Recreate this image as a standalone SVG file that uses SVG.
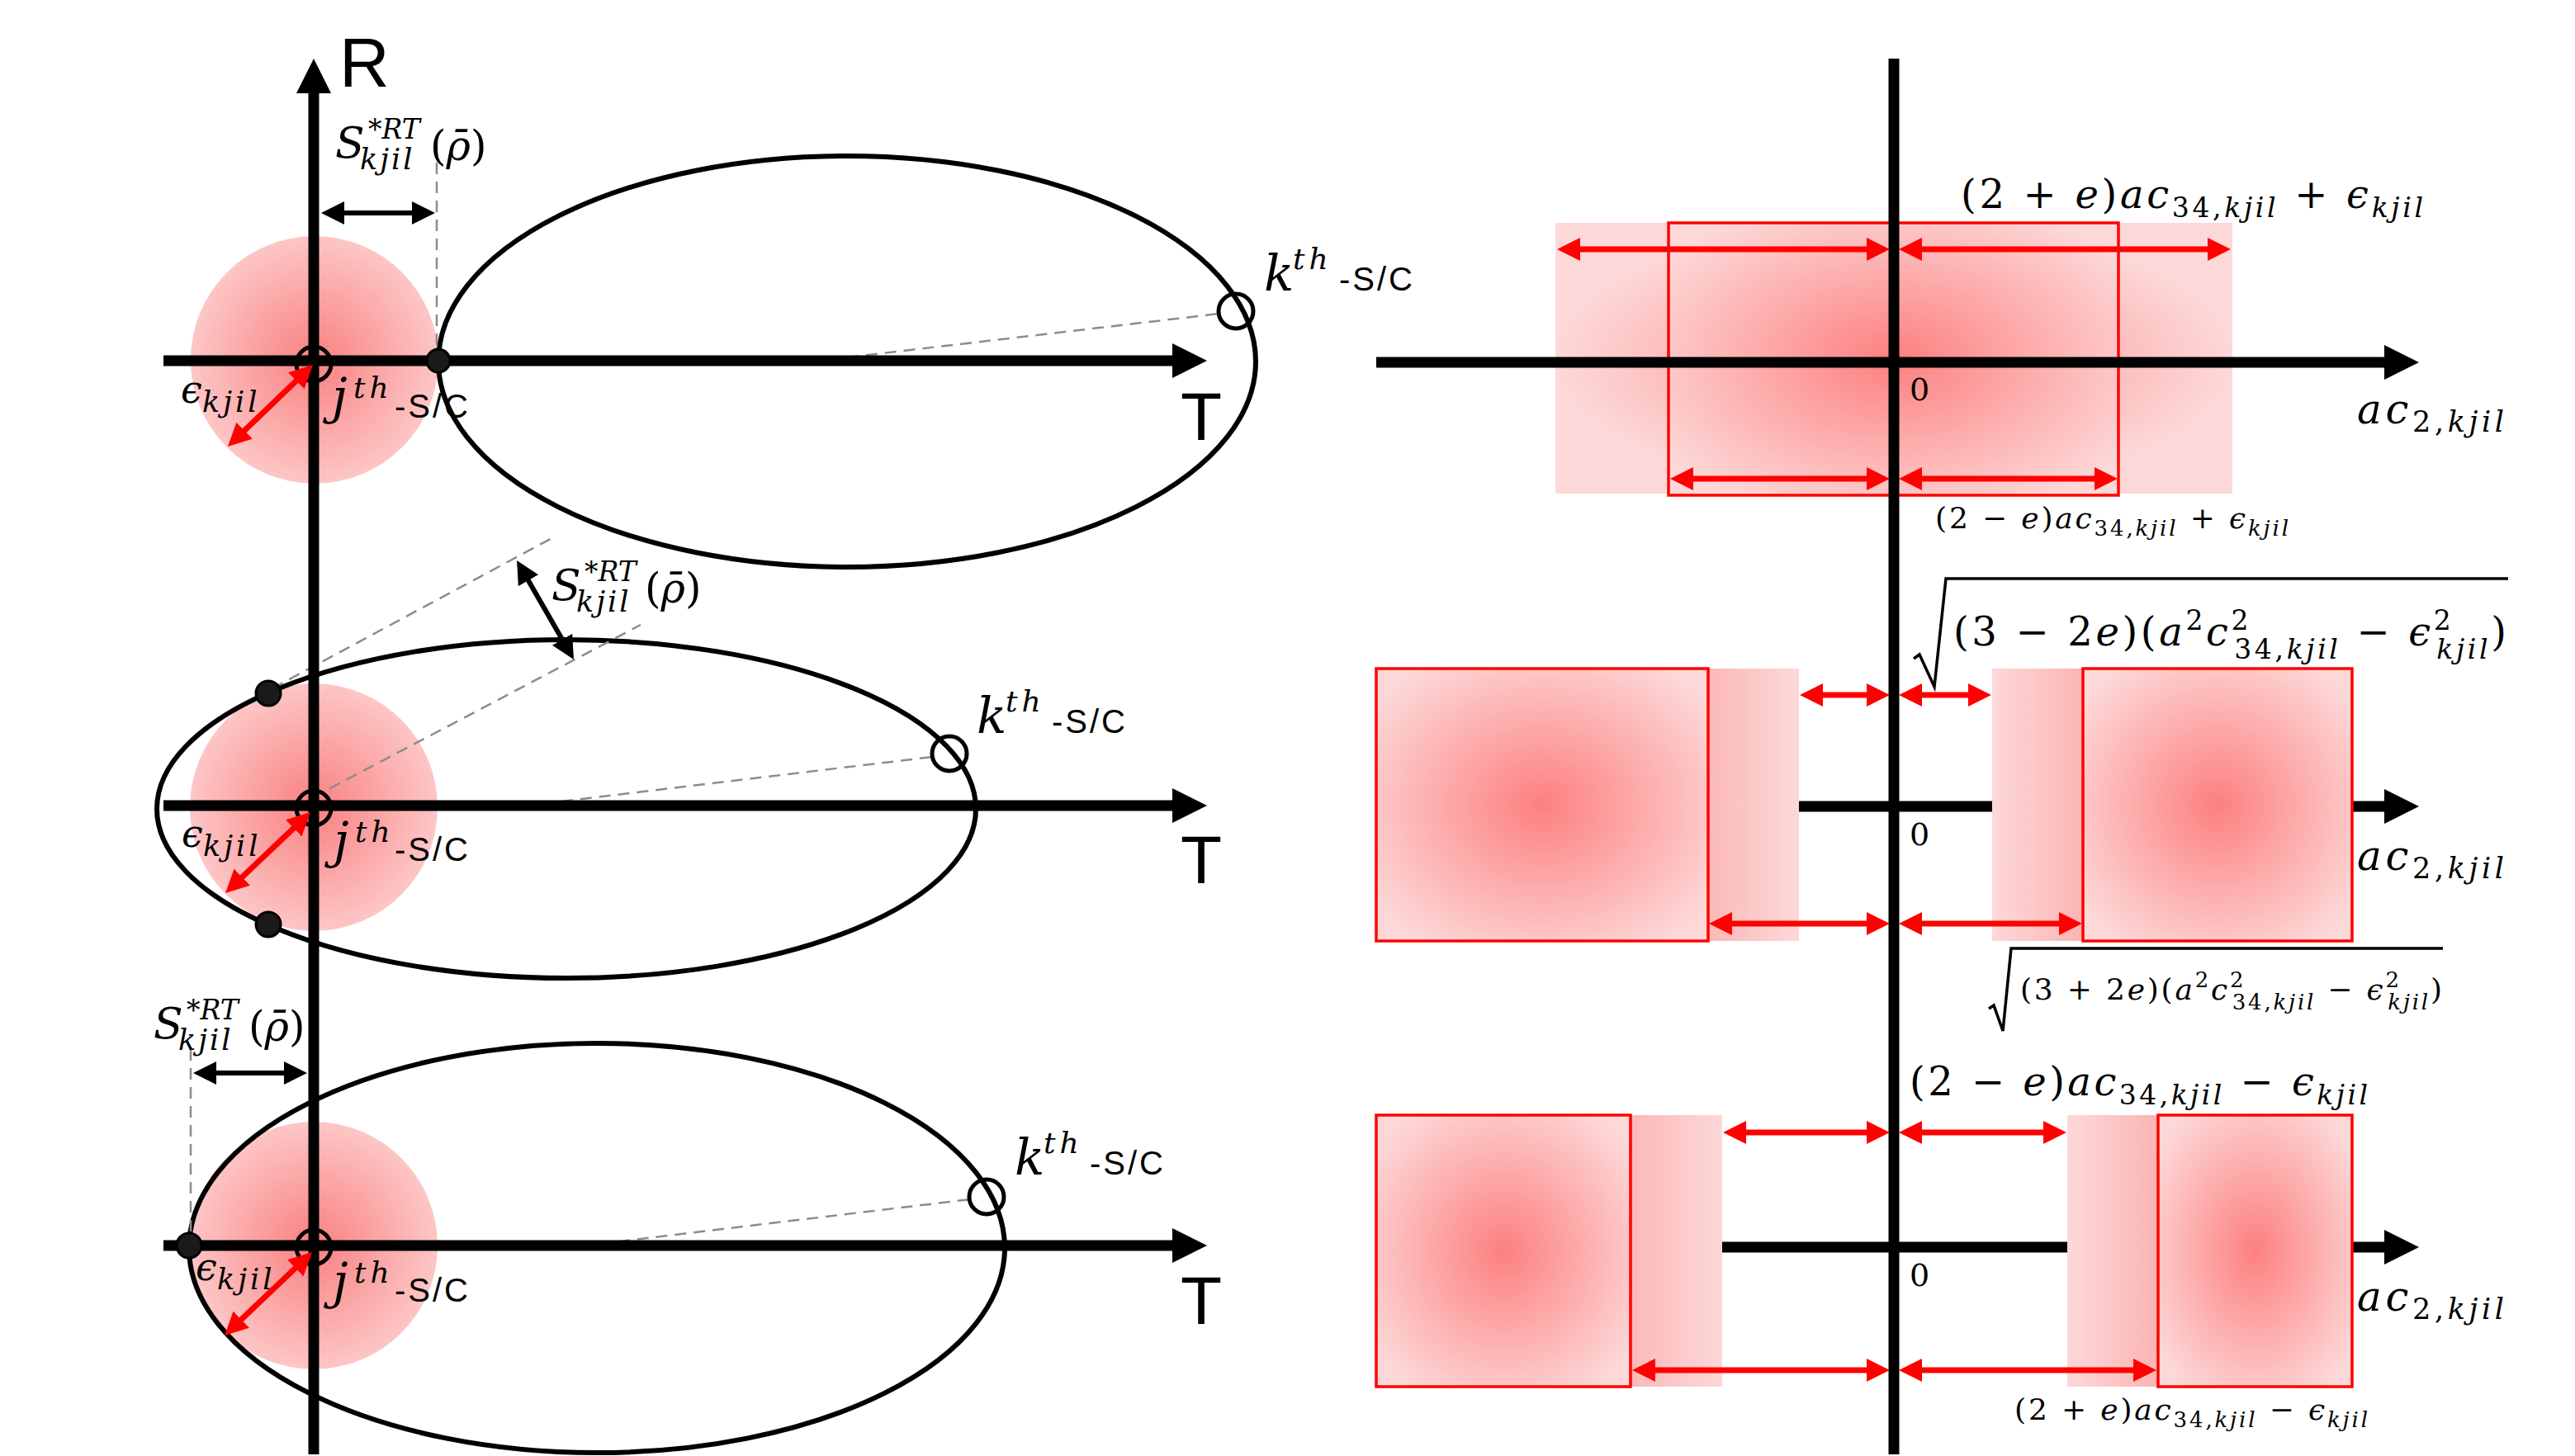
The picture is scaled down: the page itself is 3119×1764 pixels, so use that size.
<svg xmlns="http://www.w3.org/2000/svg" width="3119" height="1764" viewBox="0 0 3119 1764">
<style>
.ax{stroke:#000;stroke-width:13;fill:none}
.axa{stroke:#000;stroke-width:13;fill:none;marker-end:url(#ah)}
.ell{fill:none;stroke:#000;stroke-width:6}
.dash{stroke:#8c8c8c;stroke-width:2.5;stroke-dasharray:14 9;fill:none}
.dot{fill:#1a1a1a;stroke:#000;stroke-width:3}
.oc{fill:none;stroke:#000;stroke-width:5}
.ra{stroke:#f00;stroke-width:7;fill:none;marker-start:url(#rh);marker-end:url(#rh)}
.ba{stroke:#000;stroke-width:6;fill:none;marker-start:url(#bh);marker-end:url(#bh)}
.box{stroke:#f00;stroke-width:3.5;fill:url(#bg)}
.pink{fill:url(#pg)}
.m{font-family:"DejaVu Serif","Liberation Serif",serif;fill:#000}
.i{font-style:italic}
.sans{font-family:"Liberation Sans",Arial,sans-serif;fill:#000}
.sc{font-family:"Liberation Sans",Arial,sans-serif;font-size:40px;letter-spacing:3px}
.rad{fill:none;stroke:#000;stroke-width:3.5;stroke-linejoin:miter}
</style>
<defs>
<marker id="ah" viewBox="0 0 10 10" refX="2" refY="5" markerUnits="userSpaceOnUse" markerWidth="42" markerHeight="42" orient="auto"><path d="M0,0L10,5L0,10z" fill="#000"/></marker>
<marker id="rh" viewBox="0 0 10 10" refX="2" refY="5" markerUnits="userSpaceOnUse" markerWidth="28" markerHeight="28" orient="auto-start-reverse"><path d="M0,0L10,5L0,10z" fill="#f00"/></marker>
<marker id="bh" viewBox="0 0 10 10" refX="2" refY="5" markerUnits="userSpaceOnUse" markerWidth="28" markerHeight="28" orient="auto-start-reverse"><path d="M0,0L10,5L0,10z" fill="#000"/></marker>
<radialGradient id="pg"><stop offset="0" stop-color="#f98080"/><stop offset="1" stop-color="#fdc6c6"/></radialGradient>
<radialGradient id="og"><stop offset="0" stop-color="#fa8a8a"/><stop offset="1" stop-color="#fdd8d8"/></radialGradient>
<radialGradient id="bg" r="0.62"><stop offset="0" stop-color="#fd8080"/><stop offset="1" stop-color="#fdd8d8"/></radialGradient>
<linearGradient id="lb"><stop offset="0" stop-color="#fbb8b8"/><stop offset="1" stop-color="#fdd8d8"/></linearGradient>
<linearGradient id="rb"><stop offset="0" stop-color="#fdd8d8"/><stop offset="1" stop-color="#fbb4b4"/></linearGradient>
</defs>
<rect width="3119" height="1764" fill="#fff"/>

<!-- LEFT PANEL 1 -->
<g id="left-1">
<circle class="pink" cx="381" cy="436" r="150"/>
<ellipse class="ell" cx="1026" cy="438" rx="495" ry="249"/>
<line class="dash" x1="529" y1="174" x2="529" y2="437"/>
<line class="dash" x1="1026" y1="433" x2="1477" y2="380"/>
<line class="axa" x1="198" y1="437" x2="1428.4" y2="437"/>
</g>
<!-- LEFT PANEL 2 -->
<g id="left-2">
<circle class="pink" cx="380" cy="978" r="150"/>
<ellipse class="ell" cx="686" cy="980" rx="496" ry="205"/>
<line class="dash" x1="330" y1="834" x2="674" y2="649"/>
<line class="dash" x1="379" y1="966" x2="776" y2="757"/>
<line class="dash" x1="680" y1="971" x2="1129" y2="917"/>
<line class="axa" x1="198" y1="976" x2="1428.4" y2="976"/>
</g>
<!-- LEFT PANEL 3 -->
<g id="left-3">
<circle class="pink" cx="380" cy="1509" r="150"/>
<ellipse class="ell" cx="723" cy="1512" rx="494" ry="248"/>
<line class="dash" x1="231" y1="1271" x2="231" y2="1509"/>
<line class="dash" x1="726" y1="1507" x2="1175" y2="1453"/>
<line class="axa" x1="198" y1="1509" x2="1428.4" y2="1509"/>
</g>
<g id="r-axis">
<line class="axa" x1="380" y1="1762" x2="380" y2="104.6"/>
<text class="sans" x="411" y="105" font-size="84">R</text>
</g>
<g id="points">
<circle class="dot" cx="531" cy="437" r="14"/>
<circle class="oc" cx="380" cy="441" r="21"/>
<circle class="oc" cx="1497" cy="377" r="21"/>
<circle class="dot" cx="325" cy="840" r="15"/>
<circle class="dot" cx="325" cy="1120" r="15"/>
<circle class="oc" cx="380" cy="979" r="21"/>
<circle class="oc" cx="1150" cy="913" r="21"/>
<circle class="dot" cx="229" cy="1509" r="15"/>
<circle class="oc" cx="380" cy="1511" r="21"/>
<circle class="oc" cx="1195" cy="1450" r="21"/>
</g>

<!-- RIGHT PANEL 1 -->
<g id="right-1">
<rect x="1884" y="270" width="820" height="328" fill="url(#og)"/>
<rect class="box" x="2021" y="270" width="545" height="330"/>
<line class="axa" x1="1667" y1="439" x2="2896.4" y2="439"/>
</g>
<!-- RIGHT PANEL 2 -->
<g id="right-2">
<line class="axa" x1="1667" y1="977" x2="2896.4" y2="977"/>
<rect x="2069" y="810" width="110" height="330" fill="url(#lb)"/>
<rect class="box" x="1667" y="810" width="402" height="330"/>
<rect x="2413" y="810" width="110" height="330" fill="url(#rb)"/>
<rect class="box" x="2523" y="810" width="326" height="330"/>
</g>
<!-- RIGHT PANEL 3 -->
<g id="right-3">
<line class="axa" x1="1667" y1="1511" x2="2896.4" y2="1511"/>
<rect x="1975" y="1351" width="111" height="329" fill="url(#lb)"/>
<rect class="box" x="1667" y="1351" width="308" height="329"/>
<rect x="2504" y="1351" width="110" height="329" fill="url(#rb)"/>
<rect class="box" x="2614" y="1351" width="235" height="329"/>
</g>

<g id="connectors">
<line class="ra" x1="362.9" y1="457.5" x2="292.1" y2="525.5"/>
<line class="ra" x1="359.8" y1="999.5" x2="289.2" y2="1066.5"/>
<line class="ra" x1="361.8" y1="1532.5" x2="288.2" y2="1602.5"/>
<line class="ba" x1="411.4" y1="258" x2="504.6" y2="258"/>
<line class="ba" x1="637.2" y1="698.4" x2="683.8" y2="779.6"/>
<line class="ba" x1="256.4" y1="1300" x2="349.6" y2="1300"/>
<line class="ra" x1="1908.4" y1="302" x2="2266.6" y2="302"/>
<line class="ra" x1="2322.4" y1="302" x2="2679.6" y2="302"/>
<line class="ra" x1="2045.4" y1="580" x2="2266.6" y2="580"/>
<line class="ra" x1="2322.4" y1="580" x2="2542.6" y2="580"/>
<line class="ra" x1="2202.4" y1="842" x2="2266.6" y2="842"/>
<line class="ra" x1="2322.4" y1="842" x2="2389.6" y2="842"/>
<line class="ra" x1="2092.4" y1="1119" x2="2266.6" y2="1119"/>
<line class="ra" x1="2322.4" y1="1119" x2="2499.6" y2="1119"/>
<line class="ra" x1="2109.4" y1="1372" x2="2266.6" y2="1372"/>
<line class="ra" x1="2322.4" y1="1372" x2="2480.6" y2="1372"/>
<line class="ra" x1="1999.4" y1="1660" x2="2266.6" y2="1660"/>
<line class="ra" x1="2322.4" y1="1660" x2="2589.6" y2="1660"/>
</g>
<g id="v-axis">
<line class="ax" x1="2294" y1="71" x2="2294" y2="1762"/>
</g>

<!-- LEFT LABELS -->
<g id="labels-left">
<text class="sans" x="1430" y="533" font-size="82">T</text>
<text class="sans" x="1430" y="1070" font-size="82">T</text>
<text class="sans" x="1430" y="1604" font-size="82">T</text>
<text class="m"><tspan class="i" x="406" y="191" font-size="52">S</tspan><tspan x="446" y="168" font-size="33">*<tspan class="i">RT</tspan></tspan><tspan class="i" x="436" y="205" font-size="35" letter-spacing="3">kjil</tspan><tspan x="521" y="194" font-size="50">(<tspan class="i">ρ̄</tspan>)</tspan></text>
<text class="m"><tspan class="i" x="668" y="727" font-size="52">S</tspan><tspan x="708" y="704" font-size="33">*<tspan class="i">RT</tspan></tspan><tspan class="i" x="698" y="741" font-size="35" letter-spacing="3">kjil</tspan><tspan x="781" y="730" font-size="50">(<tspan class="i">ρ̄</tspan>)</tspan></text>
<text class="m"><tspan class="i" x="186" y="1258" font-size="52">S</tspan><tspan x="226" y="1235" font-size="33">*<tspan class="i">RT</tspan></tspan><tspan class="i" x="216" y="1272" font-size="35" letter-spacing="3">kjil</tspan><tspan x="301" y="1261" font-size="50">(<tspan class="i">ρ̄</tspan>)</tspan></text>
<text class="m"><tspan class="i" x="219" y="488" font-size="46">ϵ</tspan><tspan class="i" x="245" y="499" font-size="35" letter-spacing="4">kjil</tspan></text>
<text class="m"><tspan class="i" x="220" y="1026" font-size="46">ϵ</tspan><tspan class="i" x="246" y="1037" font-size="35" letter-spacing="4">kjil</tspan></text>
<text class="m"><tspan class="i" x="237" y="1551" font-size="46">ϵ</tspan><tspan class="i" x="263" y="1562" font-size="35" letter-spacing="4">kjil</tspan></text>
<text><tspan class="m i" x="402" y="501" font-size="60">j</tspan><tspan class="m i" x="428" y="482" font-size="36" letter-spacing="5">th</tspan><tspan class="sc" x="478" y="506">-S/C</tspan></text>
<text><tspan class="m i" x="404" y="1039" font-size="60">j</tspan><tspan class="m i" x="430" y="1020" font-size="36" letter-spacing="5">th</tspan><tspan class="sc" x="478" y="1043">-S/C</tspan></text>
<text><tspan class="m i" x="403" y="1573" font-size="60">j</tspan><tspan class="m i" x="429" y="1554" font-size="36" letter-spacing="5">th</tspan><tspan class="sc" x="478" y="1577">-S/C</tspan></text>
<text><tspan class="m i" x="1531" y="352" font-size="60">k</tspan><tspan class="m i" x="1566" y="326" font-size="36" letter-spacing="5">th</tspan><tspan class="sc" x="1622" y="352">-S/C</tspan></text>
<text><tspan class="m i" x="1183" y="888" font-size="60">k</tspan><tspan class="m i" x="1218" y="862" font-size="36" letter-spacing="5">th</tspan><tspan class="sc" x="1274" y="888">-S/C</tspan></text>
<text><tspan class="m i" x="1229" y="1423" font-size="60">k</tspan><tspan class="m i" x="1264" y="1397" font-size="36" letter-spacing="5">th</tspan><tspan class="sc" x="1320" y="1423">-S/C</tspan></text>
</g>

<!-- RIGHT LABELS -->
<g id="labels-right">
<text class="m" x="2313" y="485" font-size="38">0</text>
<text class="m" x="2313" y="1024" font-size="38">0</text>
<text class="m" x="2313" y="1558" font-size="38">0</text>
<text class="m" x="2855" y="513" font-size="50" textLength="178"><tspan class="i">ac</tspan><tspan font-size="35" dy="10">2,<tspan class="i">kjil</tspan></tspan></text>
<text class="m" x="2855" y="1054" font-size="50" textLength="178"><tspan class="i">ac</tspan><tspan font-size="35" dy="10">2,<tspan class="i">kjil</tspan></tspan></text>
<text class="m" x="2855" y="1588" font-size="50" textLength="178"><tspan class="i">ac</tspan><tspan font-size="35" dy="10">2,<tspan class="i">kjil</tspan></tspan></text>

<text class="m" x="2375" y="252" font-size="48" textLength="560">(2 + <tspan class="i">e</tspan>)<tspan class="i">ac</tspan><tspan font-size="33" dy="11">34,<tspan class="i">kjil</tspan></tspan><tspan dy="-11"> + </tspan><tspan class="i">ϵ</tspan><tspan class="i" font-size="33" dy="11">kjil</tspan></text>
<text class="m" x="2344" y="640" font-size="36" textLength="428">(2 − <tspan class="i">e</tspan>)<tspan class="i">ac</tspan><tspan font-size="26" dy="9">34,<tspan class="i">kjil</tspan></tspan><tspan dy="-9"> + </tspan><tspan class="i">ϵ</tspan><tspan class="i" font-size="26" dy="9">kjil</tspan></text>

<polyline class="rad" points="2318,798 2325,793 2343,832 2357,701 3038,701"/>
<text class="m" x="2366" y="782" font-size="48" textLength="670">(3 − 2<tspan class="i">e</tspan>)(<tspan class="i">a</tspan><tspan font-size="33" dy="-19">2</tspan><tspan class="i" dy="19">c</tspan><tspan font-size="33" dy="-19">2</tspan><tspan font-size="33" dx="-21" dy="35">34,<tspan class="i">kjil</tspan></tspan><tspan dy="-16"> − </tspan><tspan class="i">ϵ</tspan><tspan font-size="33" dy="-19">2</tspan><tspan class="i" font-size="33" dx="-21" dy="35">kjil</tspan><tspan dy="-16">)</tspan></text>

<polyline class="rad" points="2409,1222 2415,1218 2426,1249 2436,1149 2959,1149" stroke-width="3"/>
<text class="m" x="2447" y="1211" font-size="36" textLength="511">(3 + 2<tspan class="i">e</tspan>)(<tspan class="i">a</tspan><tspan font-size="26" dy="-15">2</tspan><tspan class="i" dy="15">c</tspan><tspan font-size="26" dy="-15">2</tspan><tspan font-size="26" dx="-16.5" dy="27">34,<tspan class="i">kjil</tspan></tspan><tspan dy="-12"> − </tspan><tspan class="i">ϵ</tspan><tspan font-size="26" dy="-15">2</tspan><tspan class="i" font-size="26" dx="-16.5" dy="27">kjil</tspan><tspan dy="-12">)</tspan></text>

<text class="m" x="2313" y="1327" font-size="48" textLength="555">(2 − <tspan class="i">e</tspan>)<tspan class="i">ac</tspan><tspan font-size="33" dy="11">34,<tspan class="i">kjil</tspan></tspan><tspan dy="-11"> − </tspan><tspan class="i">ϵ</tspan><tspan class="i" font-size="33" dy="11">kjil</tspan></text>
<text class="m" x="2440" y="1720" font-size="36" textLength="428">(2 + <tspan class="i">e</tspan>)<tspan class="i">ac</tspan><tspan font-size="26" dy="9">34,<tspan class="i">kjil</tspan></tspan><tspan dy="-9"> − </tspan><tspan class="i">ϵ</tspan><tspan class="i" font-size="26" dy="9">kjil</tspan></text>
</g>
</svg>
